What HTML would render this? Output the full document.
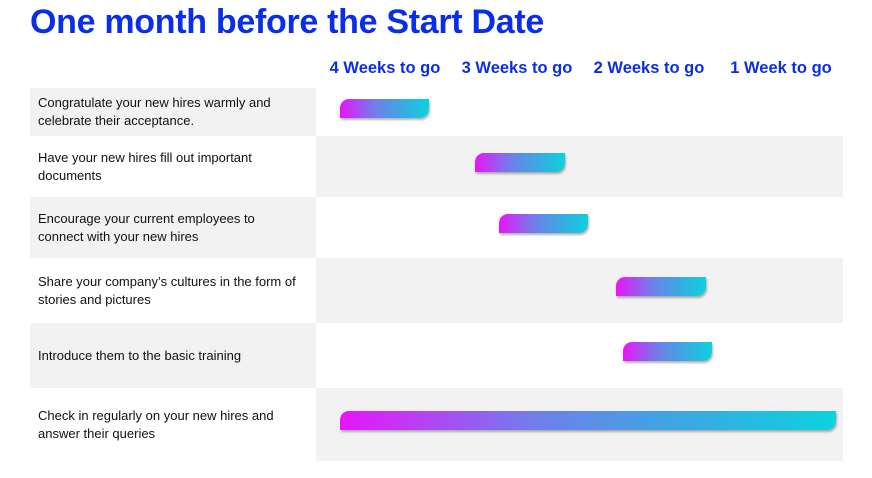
<!DOCTYPE html>
<html><head><meta charset="utf-8"><style>
body{margin:0;width:872px;height:478px;background:#fff;font-family:"Liberation Sans",sans-serif;overflow:hidden;position:relative}
#title{position:absolute;left:30px;top:3px;font-size:34px;font-weight:bold;color:#0a2ee8;white-space:nowrap;letter-spacing:-0.3px}
.hdr{position:absolute;top:59px;font-size:16.5px;font-weight:bold;color:#0a2ee8;white-space:nowrap;transform:translateX(-50%)}
.cell{position:absolute}
.lbl{position:absolute;left:38px;width:280px;font-size:13px;line-height:18px;color:#111;display:flex;align-items:center;white-space:pre-line}
.bar{position:absolute;height:19px;border-radius:9px 0 9px 0;background:linear-gradient(90deg,#e815f8,#6f80ea 40%,#3aa9e2 70%,#0cd2de);box-shadow:1px 2px 2px rgba(0,0,0,0.3)}
</style></head><body>
<div id="title">One month before the Start Date</div>
<div id="chart"></div>
<script>
const weekLabels=["4 Weeks to go","3 Weeks to go","2 Weeks to go","1 Week to go"];
const tasks=["Congratulate your new hires warmly and\ncelebrate their acceptance.","Have your new hires fill out important\ndocuments","Encourage your current employees to\nconnect with your new hires","Share your company’s cultures in the form of\nstories and pictures","Introduce them to the basic training","Check in regularly on your new hires and\nanswer their queries"];
const starts=[0.16,1.18,1.36,2.25,2.30,0.16];
const ends=[0.83,1.86,2.04,2.93,2.98,3.92];
const x=w=>319+w*132;
const rowTops=[88,136,197,258,323,388,461];
const c=document.getElementById('chart');
weekLabels.forEach((t,i)=>{const d=document.createElement('div');d.className='hdr';d.style.left=x(i+0.5)+'px';d.textContent=t;


c.appendChild(d);});
tasks.forEach((t,i)=>{const top=rowTops[i],h=rowTops[i+1]-top;
const L=document.createElement('div');L.className='cell';L.style.cssText=`left:30px;width:286px;top:${top}px;height:${h}px;background:${i%2?'#fff':'#f2f2f2'}`;


c.appendChild(L);
const R=document.createElement('div');R.className='cell';R.style.cssText=`left:316px;width:527px;top:${top}px;height:${h}px;background:${i%2?'#f2f2f2':'#fff'}`;


c.appendChild(R);
const T=document.createElement('div');T.className='lbl';T.style.top=top+'px';T.style.height=h+'px';T.textContent=t;


c.appendChild(T);
const B=document.createElement('div');B.className='bar';B.style.left=x(starts[i])+'px';B.style.width=(x(ends[i])-x(starts[i]))+'px';B.style.top=(top+Math.round((h-19)/2)-4)+'px';


c.appendChild(B);});
</script>
</body></html>
